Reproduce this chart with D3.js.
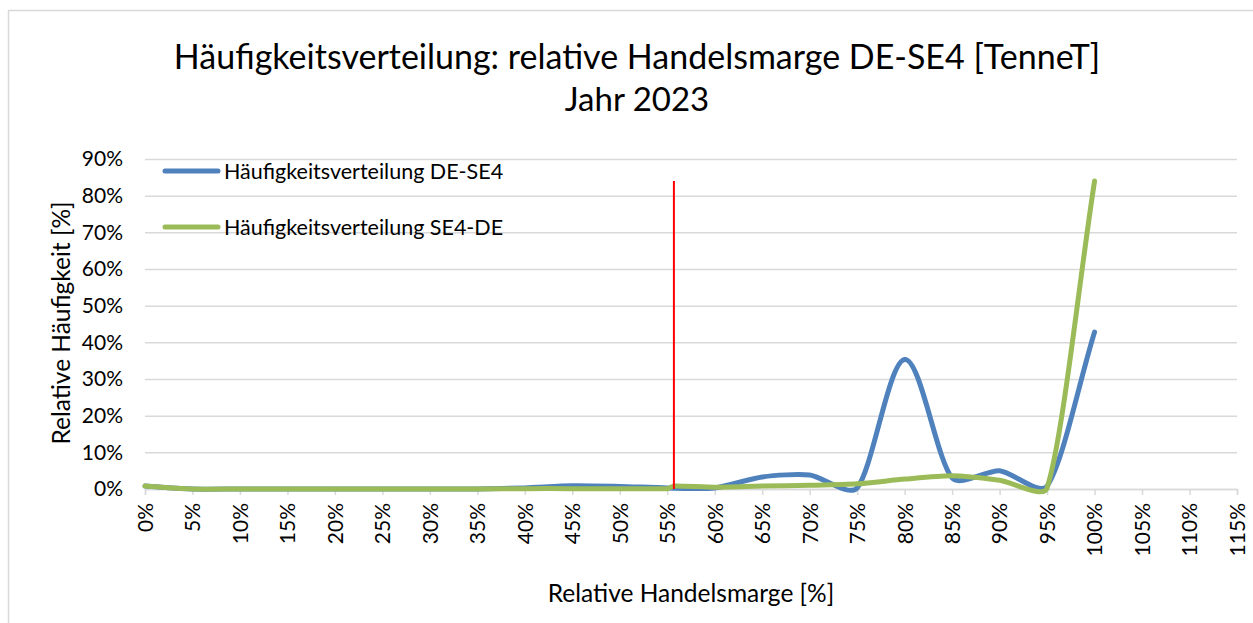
<!DOCTYPE html>
<html>
<head>
<meta charset="utf-8">
<script src="https://cdn.jsdelivr.net/npm/d3@7"></script>
<style>
html,body{margin:0;padding:0;background:#fff;}
svg{display:block;font-family:Lato, "Open Sans", sans-serif;}
</style>
</head>
<body>
<svg id="chart" width="1253" height="623"></svg>
<script>
// ---- data ----
const titleLines = ["Häufigkeitsverteilung: relative Handelsmarge DE-SE4 [TenneT]", "Jahr 2023"];
const xTickValues = [0,5,10,15,20,25,30,35,40,45,50,55,60,65,70,75,80,85,90,95,100,105,110,115];
const xTickLabels = xTickValues.map(v => v + "%");
const yTickValues = [0,10,20,30,40,50,60,70,80,90];
const yTickLabels = yTickValues.map(v => v + "%");

const seriesNames = ["Häufigkeitsverteilung DE-SE4", "Häufigkeitsverteilung SE4-DE"];
const blueX = [0,5,10,15,20,25,30,35,40,45,50,55,60,65,70,75,80,85,90,95,100];
const blueY = [0.8,0,0,0,0,0,0,0,0.3,0.9,0.7,0.3,0.3,3.3,3.8,0.3,35.3,3.0,5.0,0.8,42.8];
const greenX = [0,5,10,15,20,25,30,35,40,45,50,55,55.7,60,65,70,75,80,85,90,95,100];
const greenY = [0.8,0,0,0,0,0,0,0,0.1,0.1,0.1,0.1,0.8,0.5,0.8,1.0,1.4,2.7,3.6,2.4,0.3,84];
const redLineX = [55.7, 55.7];
const redLineY = [0, 84];

const xAxisTitle = "Relative Handelsmarge [%]";
const yAxisTitle = "Relative Häufigkeit [%]";

// ---- layout ----
const svg = d3.select("#chart");
const plot = {left:145, right:1237, top:159, bottom:489};
const x = d3.scaleLinear().domain([0,115]).range([plot.left, plot.right]);
const y = d3.scaleLinear().domain([0,90]).range([plot.bottom, plot.top]);
const gridColor = "#d9d9d9";

// smoothed line similar to spreadsheet smoothing (Catmull-Rom, control arms capped per segment)
function smoothPath(pts) {
  const n = pts.length;
  const dist = (a,b) => Math.hypot(b[0]-a[0], b[1]-a[1]);
  const tangent = i => {
    const a = pts[Math.max(0, i-1)], b = pts[Math.min(n-1, i+1)];
    return [(b[0]-a[0])/6, (b[1]-a[1])/6];
  };
  const capArm = (v, cap) => {
    const len = Math.hypot(v[0], v[1]);
    return (len > cap && len > 0) ? [v[0]*cap/len, v[1]*cap/len] : v;
  };
  let d = `M${pts[0][0]},${pts[0][1]}`;
  for (let i = 0; i < n-1; i++) {
    const a = pts[i], b = pts[i+1];
    const cap = 0.25 * dist(a, b);
    const ta = i === 0 ? [(b[0]-a[0])/3, (b[1]-a[1])/3] : capArm(tangent(i), cap);
    const tb = i+1 === n-1 ? [(b[0]-a[0])/3, (b[1]-a[1])/3] : capArm(tangent(i+1), cap);
    const c1 = [a[0]+ta[0], a[1]+ta[1]];
    const c2 = [b[0]-tb[0], b[1]-tb[1]];
    d += `C${c1[0]},${c1[1]} ${c2[0]},${c2[1]} ${b[0]},${b[1]}`;
  }
  return d;
}

// outer frame
svg.append("path").attr("d", "M8.5,623 V10.5 H1253")
  .attr("fill","none").attr("stroke", gridColor).attr("stroke-width",1.5);

// title
svg.append("text").attr("x", 637).attr("y", 69).attr("text-anchor","middle")
  .attr("font-size", 34).attr("fill","#000").text(titleLines[0]);
svg.append("text").attr("x", 637).attr("y", 111).attr("text-anchor","middle")
  .attr("font-size", 33).attr("fill","#000").text(titleLines[1]);

// gridlines + y axis
const yAxis = d3.axisLeft(y).tickValues(yTickValues).tickSize(-(plot.right-plot.left))
  .tickFormat((d,i) => yTickLabels[i]).tickPadding(22);
const gy = svg.append("g").attr("transform", `translate(${plot.left},0)`).call(yAxis);
gy.select(".domain").remove();
gy.selectAll(".tick line").attr("stroke", gridColor).attr("stroke-width", 1.5);
gy.selectAll(".tick text").attr("font-size", 21).attr("fill","#000").attr("font-family","Lato, sans-serif");

// x axis
const xAxis = d3.axisBottom(x).tickValues(xTickValues).tickSize(6)
  .tickFormat((d,i) => xTickLabels[i]);
const gx = svg.append("g").attr("transform", `translate(0,${plot.bottom})`).call(xAxis);
gx.select(".domain").attr("stroke", gridColor).attr("stroke-width",1.5);
gx.selectAll(".tick line").attr("stroke", gridColor).attr("stroke-width",1.5);
gx.selectAll(".tick text")
  .attr("font-size", 21).attr("fill","#000").attr("font-family","Lato, sans-serif")
  .attr("transform","rotate(-90)")
  .attr("text-anchor","end")
  .attr("x", -14).attr("y", 0).attr("dy","0.35em");

// axis titles
svg.append("text").attr("x", 691).attr("y", 602).attr("text-anchor","middle")
  .attr("font-size", 24.5).attr("fill","#000").text(xAxisTitle);
svg.append("text").attr("transform","translate(70,323) rotate(-90)").attr("text-anchor","middle")
  .attr("font-size", 24.5).attr("fill","#000").text(yAxisTitle);

// lines
const bluePts = blueX.map((v,i) => [x(v), y(blueY[i])]);
const greenPts = greenX.map((v,i) => [x(v), y(greenY[i])]);
svg.append("path").attr("d", smoothPath(bluePts))
  .attr("fill","none").attr("stroke","#4f81bd").attr("stroke-width",5).attr("stroke-linecap","round").attr("stroke-linejoin","round");
svg.append("path").attr("d", smoothPath(greenPts))
  .attr("fill","none").attr("stroke","#9bbb59").attr("stroke-width",5).attr("stroke-linecap","round").attr("stroke-linejoin","round");

// red vertical line
svg.append("path").datum(redLineX.map((v,i)=>[v, redLineY[i]]))
  .attr("d", d3.line().x(d=>x(d[0])).y(d=>y(d[1])))
  .attr("stroke","#ff0000").attr("stroke-width",2).attr("fill","none");

// legend
const legendColors = ["#4f81bd", "#9bbb59"];
const legendY = [171, 227];
seriesNames.forEach((name,i) => {
  svg.append("line").attr("x1",165).attr("x2",218).attr("y1",legendY[i]).attr("y2",legendY[i])
    .attr("stroke", legendColors[i]).attr("stroke-width",5).attr("stroke-linecap","round");
  svg.append("text").attr("x",224).attr("y",legendY[i]).attr("dy","0.35em")
    .attr("font-size",21.5).attr("fill","#000").text(name);
});
</script>
</body>
</html>
